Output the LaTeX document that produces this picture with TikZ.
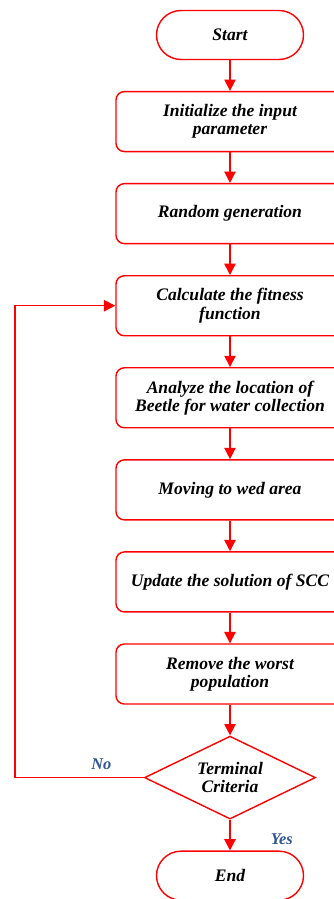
\documentclass[tikz,border=0pt]{standalone}
\usepackage{fontspec}
\setmainfont{Liberation Serif}
\definecolor{FlowRed}{RGB}{255, 0, 0}
\definecolor{LabelBlue}{RGB}{46, 84, 150}
\usetikzlibrary{arrows.meta, positioning, shapes.geometric}

\begin{document}
\begin{tikzpicture}[
    node distance=0.92cm,
    every node/.style={font=\fontsize{15}{15.5}\selectfont\bfseries\itshape, align=center},
    terminal/.style={draw=FlowRed, line width=1.2pt, rounded corners=0.735cm,
                     minimum width=4.41cm, minimum height=1.47cm},
    process/.style={draw=FlowRed, line width=1.2pt, rounded corners=0.25cm,
                    minimum width=6.84cm, minimum height=1.8cm},
    decision/.style={draw=FlowRed, line width=1.2pt, diamond, aspect=2.06, inner sep=0pt,
                     minimum width=5.13cm, minimum height=2.49cm},
    flow/.style={-{Triangle[length=0.34cm, width=0.34cm]}, FlowRed, line width=1.2pt},
    answer/.style={text=LabelBlue, font=\fontsize{14}{14}\selectfont\bfseries\itshape}
]
\useasboundingbox (0,0) rectangle (10.02,-26.97);
\node[terminal] (start) at (6.9,-1.05) {Start};
\node[process, below=of start] (init) {Initialize the input\\parameter};
\node[process, below=of init] (rand) {Random generation};
\node[process, below=of rand] (fit) {Calculate the fitness\\function};
\node[process, below=of fit] (beetle) {Analyze the location of\\Beetle for water collection};
\node[process, below=of beetle] (move) {Moving to wed area};
\node[process, below=of move] (update) {Update the solution of SCC};
\node[process, below=of update] (remove) {Remove the worst\\population};
\node[decision, below=of remove] (crit) {Terminal\\Criteria};
\node[terminal, below=of crit] (stop) {End};
\draw[flow] (start) -- (init);
\draw[flow] (init) -- (rand);
\draw[flow] (rand) -- (fit);
\draw[flow] (fit) -- (beetle);
\draw[flow] (beetle) -- (move);
\draw[flow] (move) -- (update);
\draw[flow] (update) -- (remove);
\draw[flow] (remove) -- (crit);
\draw[flow] (crit) -- (stop);
\draw[flow] (crit.west) -- ++(-3.87,0) |- (fit.west);
\node[answer, left=0.85cm of crit.west, yshift=0.4cm] (no) {No};
\node[answer, below right=0.3cm and 1.1cm of crit.south] (yes) {Yes};
\end{tikzpicture}
\end{document}
